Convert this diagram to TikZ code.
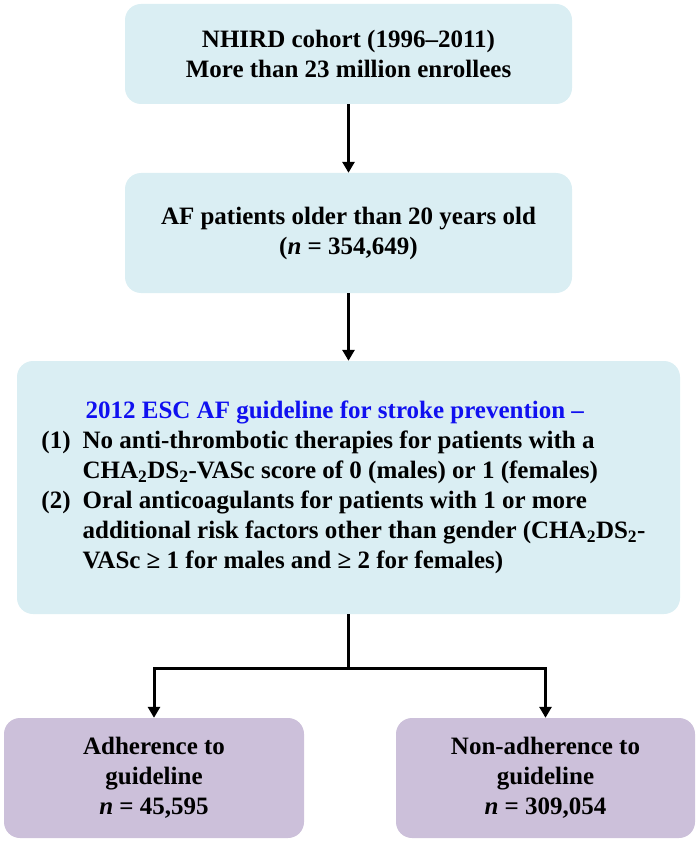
\documentclass[tikz,border=0pt]{standalone}
\usepackage{fontspec}
\setmainfont{Liberation Serif}
\usetikzlibrary{arrows.meta}
\definecolor{boxblue}{HTML}{DAEEF3}
\definecolor{boxpurple}{HTML}{CCC0DA}
\definecolor{titleblue}{RGB}{16,16,240}
\tikzset{
  base/.style={rounded corners=16pt, inner sep=0pt, align=center,
    font=\fontsize{25pt}{30pt}\selectfont\bfseries},
  bluebox/.style={base, fill=boxblue},
  purplebox/.style={base, fill=boxpurple},
  arr/.style={line width=3pt, -{Triangle[width=12pt,length=11pt]}},
  link/.style={line width=3pt}
}
\begin{document}
\begin{tikzpicture}[x=1pt,y=1pt]
\useasboundingbox (0,0) rectangle (700,-842);
\node[bluebox, minimum width=447pt, minimum height=100pt] (b1) at (348.5,-54)
  {NHIRD cohort (1996–2011)\\More than 23 million enrollees};
\node[bluebox, minimum width=447pt, minimum height=120pt] (b2) at (348.5,-233)
  {AF patients older than 20 years old\\(\textit{n} = 354,649)};
\node[bluebox, minimum width=663pt, minimum height=253pt] (b3) at (348.5,-487.5)
  {\begin{tabular}{@{}l@{\hspace{12pt}}l@{\hspace{10pt}}}
   & \hspace*{3pt}\textcolor{titleblue}{2012 ESC AF guideline for stroke prevention –}\\
   (1) & No anti-thrombotic therapies for patients with a\\
       & CHA\textsubscript{2}DS\textsubscript{2}-VASc score of 0 (males) or 1 (females)\\
   (2) & Oral anticoagulants for patients with 1 or more\\
       & additional risk factors other than gender (CHA\textsubscript{2}DS\textsubscript{2}-\\
       & VASc ≥ 1 for males and ≥ 2 for females)
   \end{tabular}};
\node[purplebox, minimum width=300pt, minimum height=120pt] (b4) at (154,-778)
  {Adherence to\\guideline\\\textit{n} = 45,595};
\node[purplebox, minimum width=299pt, minimum height=120pt] (b5) at (545.5,-778)
  {Non-adherence to\\guideline\\\textit{n} = 309,054};
\coordinate (split) at (348.5,-668);
\draw[arr] (b1) -- (b2);
\draw[arr] (b2) -- (b3);
\draw[link] (b3.south) -- (split);
\draw[arr, line join=miter] (split) -| (b4.north);
\draw[arr, line join=miter] (split) -| (b5.north);
\end{tikzpicture}
\end{document}
